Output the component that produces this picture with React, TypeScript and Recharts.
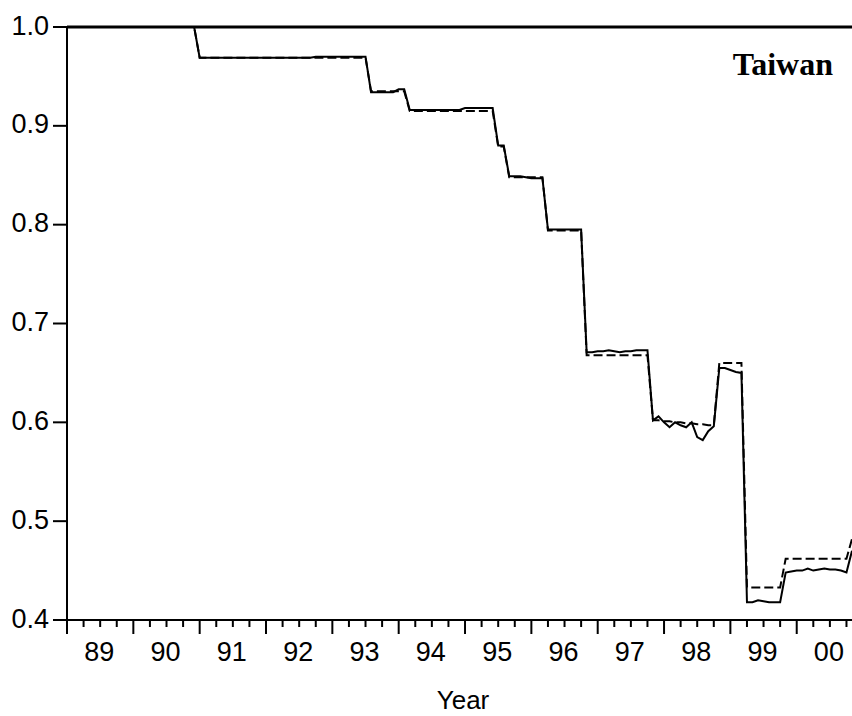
import { LineChart, Line, XAxis, YAxis, ReferenceLine } from "recharts";

// monthly, 1989:01 onwards (index 0 = Jan 1989)
const yearLabels = ["89", "90", "91", "92", "93", "94", "95", "96", "97", "98", "99", "00"];

const yTicks = [0.4, 0.5, 0.6, 0.7, 0.8, 0.9, 1.0];

const actual = [
  1.0, 1.0, 1.0, 1.0, 1.0, 1.0, 1.0, 1.0, 1.0, 1.0, 1.0, 1.0,
  1.0, 1.0, 1.0, 1.0, 1.0, 1.0, 1.0, 1.0, 1.0, 1.0, 1.0, 1.0,
  0.969, 0.969, 0.969, 0.969, 0.969, 0.969, 0.969, 0.969, 0.969, 0.969, 0.969, 0.969,
  0.969, 0.969, 0.969, 0.969, 0.969, 0.969, 0.969, 0.969, 0.969, 0.970, 0.970, 0.970,
  0.970, 0.970, 0.970, 0.970, 0.970, 0.970, 0.970, 0.934, 0.934, 0.934, 0.934, 0.934,
  0.937, 0.937, 0.916, 0.916, 0.916, 0.916, 0.916, 0.916, 0.916, 0.916, 0.916, 0.916,
  0.918, 0.918, 0.918, 0.918, 0.918, 0.918, 0.880, 0.880, 0.849, 0.849, 0.849, 0.848,
  0.847, 0.847, 0.847, 0.795, 0.795, 0.795, 0.795, 0.795, 0.795, 0.795, 0.671, 0.671,
  0.672, 0.672, 0.673, 0.672, 0.671, 0.672, 0.672, 0.673, 0.673, 0.673, 0.602, 0.606,
  0.600, 0.595, 0.600, 0.597, 0.595, 0.600, 0.585, 0.582, 0.591, 0.596, 0.655, 0.655,
  0.653, 0.651, 0.650, 0.418, 0.418, 0.420, 0.419, 0.418, 0.418, 0.418, 0.448, 0.449,
  0.450, 0.450, 0.452, 0.450, 0.451, 0.452, 0.451, 0.451, 0.450, 0.448, 0.470,
];

const fitted = [
  1.0, 1.0, 1.0, 1.0, 1.0, 1.0, 1.0, 1.0, 1.0, 1.0, 1.0, 1.0,
  1.0, 1.0, 1.0, 1.0, 1.0, 1.0, 1.0, 1.0, 1.0, 1.0, 1.0, 1.0,
  0.969, 0.969, 0.969, 0.969, 0.969, 0.969, 0.969, 0.969, 0.969, 0.969, 0.969, 0.969,
  0.969, 0.969, 0.969, 0.969, 0.969, 0.969, 0.969, 0.969, 0.969, 0.969, 0.969, 0.969,
  0.969, 0.969, 0.969, 0.969, 0.969, 0.969, 0.969, 0.935, 0.935, 0.935, 0.935, 0.935,
  0.935, 0.935, 0.915, 0.915, 0.915, 0.915, 0.915, 0.915, 0.915, 0.915, 0.915, 0.915,
  0.915, 0.915, 0.915, 0.915, 0.915, 0.915, 0.879, 0.879, 0.848, 0.848, 0.848, 0.848,
  0.848, 0.848, 0.848, 0.794, 0.794, 0.794, 0.794, 0.794, 0.794, 0.794, 0.668, 0.668,
  0.668, 0.668, 0.668, 0.668, 0.668, 0.668, 0.668, 0.668, 0.668, 0.668, 0.602, 0.602,
  0.601, 0.601, 0.600, 0.600, 0.599, 0.599, 0.598, 0.598, 0.597, 0.597, 0.660, 0.660,
  0.660, 0.660, 0.660, 0.433, 0.433, 0.433, 0.433, 0.433, 0.433, 0.433, 0.462, 0.462,
  0.462, 0.462, 0.462, 0.462, 0.462, 0.462, 0.462, 0.462, 0.462, 0.462, 0.482,
];

// quarterly tick positions (month index)
const xTicks = Array.from({ length: 48 }, (_, i) => i * 3);

const data = actual.map((v, i) => ({ m: i, actual: v, fitted: fitted[i] }));

const font = "'Liberation Sans', Arial, sans-serif";

function MonthTick(props: any) {
  const { x, y, payload } = props;
  const m = payload.value as number;
  const major = m % 12 === 0;
  const label = m % 12 === 6 ? yearLabels[m / 12 - 0.5] : null;
  return (
    <g>
      <line x1={x} x2={x} y1={y} y2={y + (major ? 14 : 7)} stroke="#000" strokeWidth={2} />
      {label && (
        <text x={x - 1} y={y + 41} textAnchor="middle" fontSize={27} fontFamily={font} fill="#000">
          {label}
        </text>
      )}
    </g>
  );
}

export default function App() {
  return (
    <div style={{ position: "absolute", left: 0, top: 0, background: "#fff" }}>
      <LineChart
        width={852}
        height={716}
        data={data}
        margin={{ top: 27, right: 0, bottom: 0, left: 0 }}
      >
        <XAxis
          dataKey="m"
          type="number"
          domain={[0, 142]}
          ticks={xTicks}
          interval={0}
          height={96}
          tickLine={false}
          tickSize={0}
          tickMargin={0}
          axisLine={{ stroke: "#000", strokeWidth: 2 }}
          tick={<MonthTick />}
        />
        <YAxis
          type="number"
          domain={[0.4, 1.0]}
          ticks={yTicks}
          width={67}
          tickSize={14}
          tickMargin={4}
          tickFormatter={(v: number) => v.toFixed(1)}
          tickLine={{ stroke: "#000", strokeWidth: 2 }}
          axisLine={{ stroke: "#000", strokeWidth: 2 }}
          tick={{ fill: "#000", fontSize: 27, fontFamily: font, dy: -2 }}
        />
        <ReferenceLine y={1.0} stroke="#000" strokeWidth={3} ifOverflow="visible" />
        <Line
          dataKey="fitted"
          type="linear"
          stroke="#000"
          strokeWidth={2}
          strokeDasharray="9 4"
          dot={false}
          activeDot={false}
          isAnimationActive={false}
        />
        <Line
          dataKey="actual"
          type="linear"
          stroke="#000"
          strokeWidth={2}
          dot={false}
          activeDot={false}
          isAnimationActive={false}
        />
        <text
          x={833}
          y={75}
          textAnchor="end"
          fontSize={32}
          fontWeight="bold"
          fontFamily="'Liberation Serif', 'Times New Roman', serif"
          fill="#000"
        >
          Taiwan
        </text>
        <text x={463} y={709} textAnchor="middle" fontSize={26} fontFamily={font} fill="#000">
          Year
        </text>
      </LineChart>
    </div>
  );
}
